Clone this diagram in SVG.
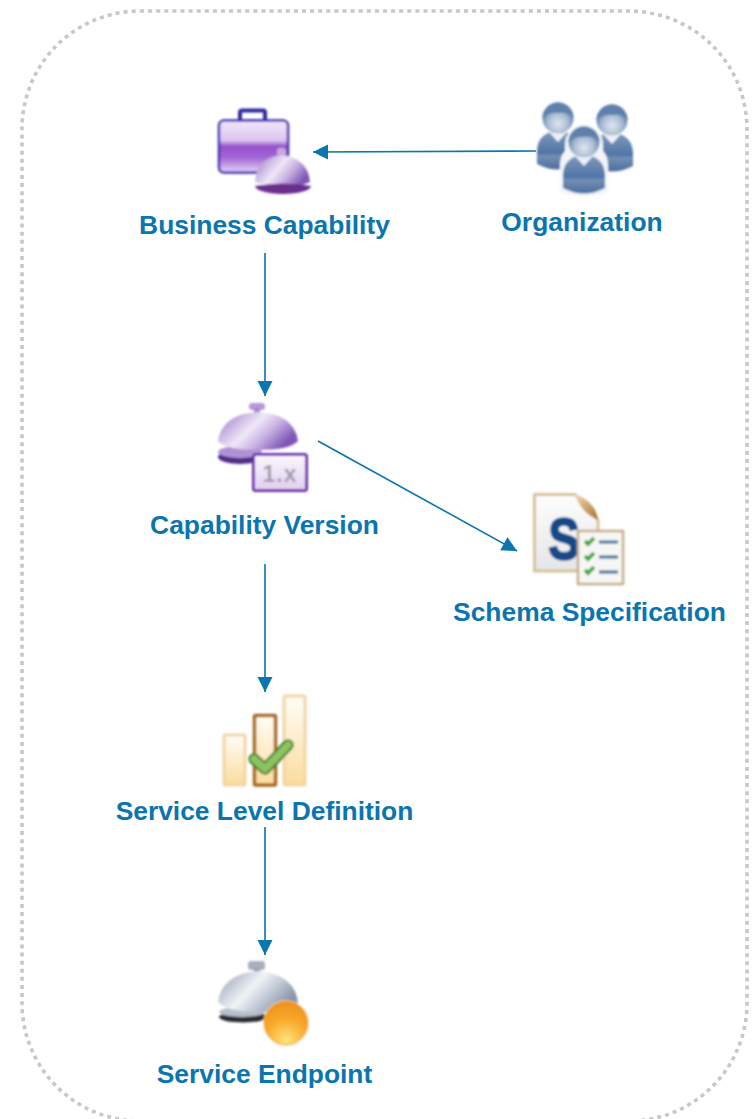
<svg xmlns="http://www.w3.org/2000/svg" width="753" height="1119" viewBox="0 0 753 1119">
<style>
text{font-family:"Liberation Sans",Arial,sans-serif;font-weight:700;font-size:26.4px;fill:#0a75ae;text-anchor:middle}
.c{fill:none;stroke:#0a75ae;stroke-width:1.6}
.soft{filter:url(#b)}
</style>
<defs>
<filter id="b" x="-10%" y="-10%" width="120%" height="120%"><feGaussianBlur stdDeviation="0.8"/></filter>
<marker id="a" markerUnits="userSpaceOnUse" markerWidth="18" markerHeight="16" refX="16" refY="8" orient="auto"><path d="M1 0.500L16 8L1 15.500Z" fill="#0a75ae"/></marker>
<linearGradient id="case" x1="0" y1="0" x2="0" y2="1"><stop offset="0" stop-color="#f1e8fa"/><stop offset=".38" stop-color="#dcc4f0"/><stop offset=".5" stop-color="#9650cc"/><stop offset=".72" stop-color="#a468d6"/><stop offset="1" stop-color="#e6d6f5"/></linearGradient>
<linearGradient id="dome" x1="0" y1="0" x2="1" y2=".5"><stop offset="0" stop-color="#9472c6"/><stop offset=".5" stop-color="#efe8f7"/><stop offset=".72" stop-color="#c9b2e2"/><stop offset="1" stop-color="#8157b6"/></linearGradient>
<linearGradient id="dome2" x1="0" y1="0" x2="1" y2=".5"><stop offset="0" stop-color="#8d99ae"/><stop offset=".5" stop-color="#f0f3f7"/><stop offset=".72" stop-color="#c5ccd8"/><stop offset="1" stop-color="#8a95a8"/></linearGradient>
<linearGradient id="body" x1="0" y1="0" x2="0" y2="1"><stop offset="0" stop-color="#7d98bd"/><stop offset=".58" stop-color="#4f74a5"/><stop offset=".62" stop-color="#7390b6"/><stop offset="1" stop-color="#4c6f9d"/></linearGradient>
<radialGradient id="head" cx=".5" cy=".68" r=".55"><stop offset="0" stop-color="#dfe7f1"/><stop offset=".6" stop-color="#a9bcd3"/><stop offset="1" stop-color="#5c7fab"/></radialGradient>
<linearGradient id="bar" x1="0" y1="0" x2="0" y2="1"><stop offset="0" stop-color="#fffdf8"/><stop offset="1" stop-color="#fbdc9c"/></linearGradient>
<linearGradient id="badge" x1="0" y1="0" x2="0" y2="1"><stop offset="0" stop-color="#fbf8fd"/><stop offset="1" stop-color="#dfd0ee"/></linearGradient>
<radialGradient id="orb" cx=".5" cy=".88" r=".85"><stop offset="0" stop-color="#fde47e"/><stop offset=".55" stop-color="#f9a92c"/><stop offset="1" stop-color="#ee9318"/></radialGradient>
<linearGradient id="fold" x1="0" y1="0" x2="1" y2="1"><stop offset="0" stop-color="#f2dcb6"/><stop offset="1" stop-color="#a86f28"/></linearGradient>
<linearGradient id="page" x1="0" y1="0" x2="0" y2="1"><stop offset="0" stop-color="#fefefe"/><stop offset="1" stop-color="#e4e5e6"/></linearGradient>
<g id="person"><path d="M-21 24Q-21 9 -8 4L0 11L8 4Q21 9 21 24L21 36Q0 47 -21 36Z" fill="url(#body)"/><path d="M-9 4L0 14L9 4Z" fill="#eef2f7"/><circle cy="-10" r="15.500" fill="url(#head)"/><path d="M-15.500 -10A15.500 15.500 0 0 1 15.500 -10Q8 -17 0 -15Q-9 -16 -15.500 -10Z" fill="#5e80ac"/></g>
</defs>
<rect id="border" x="22" y="11" width="725" height="1110" rx="118" ry="118" fill="none" stroke="#c8c8c8" stroke-width="3.600" stroke-dasharray="4 4.100"/>
<g id="connectors">
<path class="c" d="M536 151L313 152" marker-end="url(#a)"/>
<path class="c" d="M265 253V396" marker-end="url(#a)"/>
<path class="c" d="M318 441L517 551" marker-end="url(#a)"/>
<path class="c" d="M265 564V692" marker-end="url(#a)"/>
<path class="c" d="M265 827V955" marker-end="url(#a)"/>
</g>
<g id="business-capability">
<g class="soft">
<rect x="240" y="110.500" width="25" height="11" rx="2" fill="none" stroke="#2f2a9e" stroke-width="4"/>
<rect x="219" y="120.500" width="69" height="52" rx="5" fill="url(#case)" stroke="#4232b2" stroke-width="2.500"/>
<rect x="277" y="148" width="9" height="8" rx="3" fill="#c9a8dd"/>
<path d="M255 182Q256 158 281 155Q308 158 310 182Q284 194 255 182Z" fill="url(#dome)"/>
<path d="M255 186Q283 181 311 186Q309 193 283 194Q257 193 255 186Z" fill="#6a2f8c"/>
</g>
<text x="264.500" y="234">Business Capability</text>
</g>
<g id="organization">
<g class="soft">
<use href="#person" x="558" y="128"/>
<use href="#person" x="612" y="130"/>
<path d="M584 125a19 19 0 0 1 19 19v7q5 5 5 14v27q-24 9 -48 0v-27q0-9 5-14v-7a19 19 0 0 1 19-19Z" fill="#f2f5f9"/>
<use href="#person" x="584" y="152"/>
</g>
<text x="582" y="231">Organization</text>
</g>
<g id="capability-version">
<g class="soft">
<rect x="249" y="403" width="16" height="7" rx="3" fill="#b79ad8"/>
<rect x="254" y="408" width="6" height="6" fill="#a986cf"/>
<ellipse cx="240" cy="457" rx="22" ry="7" fill="#4f2d85"/>
<ellipse cx="240" cy="452" rx="22" ry="6" fill="#b191d6"/>
<path d="M218 441Q222 414 258 412Q294 414 298 441Q290 450 258 450Q226 450 218 441Z" fill="url(#dome)"/>
<rect x="253.500" y="454.500" width="53" height="36" rx="2" fill="url(#badge)" stroke="#7132b0" stroke-width="3"/>
<text x="280" y="482" style="font-size:23px;fill:#a79ab5;letter-spacing:1px">1.x</text>
</g>
<text x="264.500" y="534">Capability Version</text>
</g>
<g id="schema-specification">
<g class="soft">
<path d="M534.500 494.500H575L598 520V571H534.500Z" fill="url(#page)" stroke="#d8c19b" stroke-width="3"/>
<path d="M575 494Q580 512 598 520Q596 502 575 494Z" fill="url(#fold)"/>
<text transform="translate(564 559) scale(.8 1)" style="font-size:58px;fill:#17488a;stroke:#17488a;stroke-width:2.500">S</text>
<rect x="578" y="531" width="45" height="53" fill="#f6f7f4" stroke="#c4ae8c" stroke-width="2.500"/>
<path d="M585 541l3 3l6-6M585 556l3 3l6-6M585 570l3 3l6-6" fill="none" stroke="#3ea33e" stroke-width="3.800"/>
<path d="M599 542H618M599 557H618M599 572H618" stroke="#3f6d99" stroke-width="3"/>
</g>
<text x="589.500" y="621">Schema Specification</text>
</g>
<g id="service-level-definition">
<g class="soft">
<rect x="224" y="735" width="21" height="50" rx="1" fill="url(#bar)" stroke="#f2d6a6" stroke-width="3"/>
<rect x="254.500" y="715.500" width="21" height="69.500" rx="1" fill="url(#bar)" stroke="#a66a22" stroke-width="3.500"/>
<rect x="284" y="696" width="21" height="89" rx="1" fill="url(#bar)" stroke="#f2d6a6" stroke-width="3"/>
<path d="M254 759L265 769L288 745" fill="none" stroke="#44822f" stroke-width="11.500" stroke-linecap="round" stroke-linejoin="round"/>
<path d="M254 759L265 769L288 745" fill="none" stroke="#8cc261" stroke-width="7.500" stroke-linecap="round" stroke-linejoin="round"/>
</g>
<text x="264.500" y="820">Service Level Definition</text>
</g>
<g id="service-endpoint">
<g class="soft">
<rect x="248" y="961" width="17" height="9" rx="3" fill="#a9b0bd"/>
<rect x="254" y="968" width="6" height="5" fill="#98a0ae"/>
<ellipse cx="243" cy="1017" rx="24" ry="5.500" fill="#2c2c30"/>
<ellipse cx="242" cy="1012" rx="23" ry="5" fill="#b8bfca"/>
<path d="M218 1002Q222 974 258 971Q294 974 298 1002Q290 1012 258 1012Q226 1012 218 1002Z" fill="url(#dome2)"/>
<circle cx="286" cy="1023" r="23" fill="#fff" opacity=".6"/>
<circle cx="286" cy="1023" r="22" fill="url(#orb)" stroke="#f3a534" stroke-width="1"/>
</g>
<text x="264.500" y="1083">Service Endpoint</text>
</g>
</svg>
